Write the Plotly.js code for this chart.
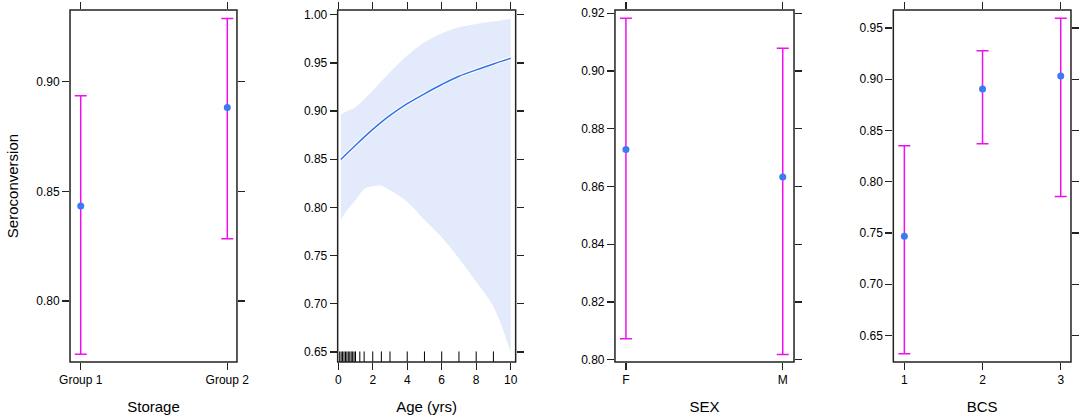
<!DOCTYPE html>
<html>
<head>
<meta charset="utf-8">
<script src="https://cdn.plot.ly/plotly-3.0.1.min.js"></script>
<style>
  html, body { margin: 0; padding: 0; background: #fff; }
  #graph { width: 1084px; height: 419px; }
</style>
</head>
<body>
<div id="graph"></div>
<script>
// effect estimates with 95% limits
var storageCats = ['Group 1', 'Group 2'];
var storageFit = [0.8434, 0.8883];
var storageLower = [0.7758, 0.8284];
var storageUpper = [0.8936, 0.9289];

var ageX = [0.15, 0.5, 1, 1.5, 2, 2.5, 3, 4, 5, 6, 7, 8, 9, 10];
var ageFit = [0.8497, 0.856, 0.8645, 0.873, 0.8811, 0.8886, 0.8955, 0.9077, 0.918, 0.9276, 0.9362, 0.9428, 0.949, 0.9549];
var ageLower = [0.787, 0.797, 0.8075, 0.819, 0.822, 0.8225, 0.818, 0.806, 0.787, 0.769, 0.747, 0.723, 0.697, 0.650];
var ageUpper = [0.8966, 0.900, 0.9041, 0.912, 0.9214, 0.931, 0.9404, 0.9577, 0.9714, 0.9807, 0.987, 0.9905, 0.9929, 0.9957];
var ageRug = [0.083, 0.167, 0.25, 0.333, 0.417, 0.5, 0.583, 0.667, 0.75, 0.833, 0.917, 1, 1.25, 1.5, 2, 2.5, 3, 4, 5, 6, 7, 8, 9];

var sexCats = ['F', 'M'];
var sexFit = [0.8728, 0.8633];
var sexLower = [0.8073, 0.8018];
var sexUpper = [0.9183, 0.9079];

var bcsCats = ['1', '2', '3'];
var bcsFit = [0.7469, 0.8905, 0.9032];
var bcsLower = [0.6321, 0.8372, 0.7855];
var bcsUpper = [0.8352, 0.9279, 0.9595];

var pink = '#EE11EE';
var dot = '#3A7BF5';
var font = 'Liberation Sans, Arial, sans-serif';

function effectTrace(cats, fit, lo, hi, xa, ya) {
  return {
    type: 'scatter', mode: 'markers',
    x: cats, y: fit, xaxis: xa, yaxis: ya,
    marker: { color: dot, size: 7 },
    error_y: {
      type: 'data', symmetric: false,
      array: fit.map(function (v, i) { return hi[i] - v; }),
      arrayminus: fit.map(function (v, i) { return v - lo[i]; }),
      color: pink, thickness: 1.5, width: 6
    },
    hoverinfo: 'x+y'
  };
}

var data = [
  effectTrace(storageCats, storageFit, storageLower, storageUpper, 'x', 'y'),
  { type: 'scatter', mode: 'lines', x: ageX, y: ageLower, xaxis: 'x2', yaxis: 'y2',
    line: { width: 0, shape: 'spline' }, hoverinfo: 'skip' },
  { type: 'scatter', mode: 'lines', x: ageX, y: ageUpper, xaxis: 'x2', yaxis: 'y2',
    line: { width: 0, shape: 'spline' }, fill: 'tonexty', fillcolor: '#E3EAFB', hoverinfo: 'skip' },
  // white halo under the fitted line
  { type: 'scatter', mode: 'lines', x: ageX, y: ageFit, xaxis: 'x2', yaxis: 'y2',
    line: { color: '#fff', width: 3.5, shape: 'spline' }, hoverinfo: 'skip' },
  { type: 'scatter', mode: 'lines', x: ageX, y: ageFit, xaxis: 'x2', yaxis: 'y2',
    line: { color: '#3372E6', width: 1.5, shape: 'spline' } },
  effectTrace(sexCats, sexFit, sexLower, sexUpper, 'x3', 'y3'),
  effectTrace(bcsCats, bcsFit, bcsLower, bcsUpper, 'x4', 'y4')
];

// rug marks along the bottom of the age panel
var shapes = ageRug.map(function (a) {
  return { type: 'line', xref: 'x2', yref: 'y2 domain', x0: a, x1: a, y0: 0, y1: 0.03,
    line: { color: '#000', width: 1 } };
});
// panel frames
['', '2', '3', '4'].forEach(function (n) {
  shapes.push({ type: 'rect', xref: 'x' + n + ' domain', yref: 'y' + n + ' domain',
    x0: 0, x1: 1, y0: 0, y1: 1, layer: 'above', line: { color: '#222', width: 1.5 } });
});

function ax(extra) {
  var base = {
    showline: false, mirror: 'ticks',
    ticks: 'outside', ticklen: 7, tickcolor: '#222', tickwidth: 1.3,
    showgrid: false, zeroline: false, fixedrange: true,
    tickfont: { family: font, size: 12, color: '#000' }
  };
  for (var k in extra) base[k] = extra[k];
  return base;
}

function xtitle(t) {
  return { text: t, font: { family: font, size: 15, color: '#000' }, standoff: 15 };
}

var yDom = [0.136, 0.976];

var layout = {
  width: 1084, height: 419,
  margin: { l: 0, r: 0, t: 0, b: 0 },
  paper_bgcolor: '#fff', plot_bgcolor: '#fff',
  showlegend: false,
  shapes: shapes,
  xaxis: ax({ domain: [0.0646, 0.2186], anchor: 'y', type: 'category', range: [-0.073, 1.066], title: xtitle('Storage') }),
  yaxis: ax({ domain: yDom, anchor: 'x', range: [0.7722, 0.9327], tickvals: [0.80, 0.85, 0.90], tickformat: '.2f',
    title: { text: 'Seroconversion', font: { family: font, size: 15, color: '#000' }, standoff: 14 } }),
  xaxis2: ax({ domain: [0.3115, 0.4757], anchor: 'y2', range: [-0.035, 10.29], tickvals: [0, 2, 4, 6, 8, 10], title: xtitle('Age (yrs)') }),
  yaxis2: ax({ domain: yDom, anchor: 'x2', range: [0.6396, 1.0049], tickvals: [0.65, 0.70, 0.75, 0.80, 0.85, 0.90, 0.95, 1.00], tickformat: '.2f' }),
  xaxis3: ax({ domain: [0.5673, 0.7325], anchor: 'y3', type: 'category', range: [-0.070, 1.072], title: xtitle('SEX') }),
  yaxis3: ax({ domain: yDom, anchor: 'x3', range: [0.7992, 0.9211], tickvals: [0.80, 0.82, 0.84, 0.86, 0.88, 0.90, 0.92], tickformat: '.2f' }),
  xaxis4: ax({ domain: [0.8241, 0.9880], anchor: 'y4', type: 'category', range: [-0.141, 2.131], title: xtitle('BCS') }),
  yaxis4: ax({ domain: yDom, anchor: 'x4', range: [0.624, 0.9676], tickvals: [0.65, 0.70, 0.75, 0.80, 0.85, 0.90, 0.95], tickformat: '.2f' })
};

Plotly.newPlot('graph', data, layout, { displayModeBar: false, staticPlot: true });
</script>
</body>
</html>
